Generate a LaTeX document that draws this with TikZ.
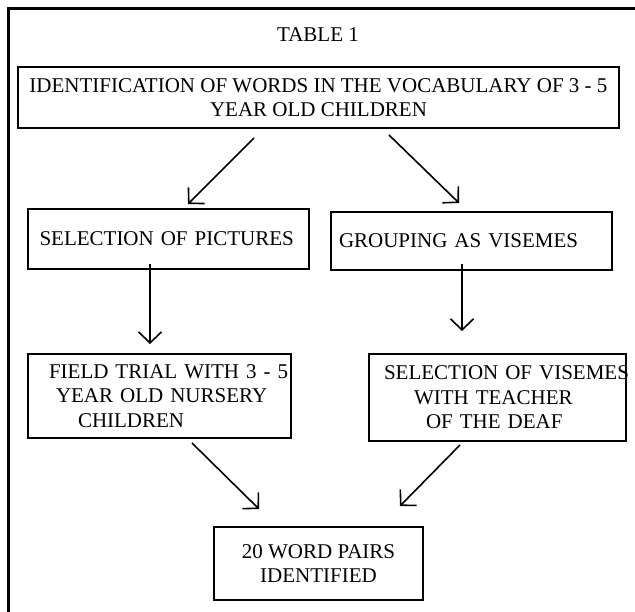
\documentclass[tikz,border=0pt]{standalone}
\usepackage{fontspec}
\setmainfont{Liberation Serif}
\usetikzlibrary{arrows.meta}
\newcommand{\bxline}[2]{\hspace*{#1}\rlap{#2}}
\begin{document}
\begin{tikzpicture}[x=1pt,y=-1pt,
  every node/.style={font=\fontsize{21}{24.5}\selectfont},
  box/.style={draw, line width=2pt, rectangle, inner sep=0pt},
  lbox/.style={box, align=left, anchor=north west},
  cbox/.style={box, align=center},
  arr/.style={line width=1.6pt, -{Straight Barb[length=11pt,width=23pt]}}]
\useasboundingbox (0,0) rectangle (635,612);
% frame
\draw[line width=3pt, line join=miter] (8,612) -- (8,9) -- (635,9);
% title
\node[anchor=base] (title) at (318,42) {TABLE 1};
% boxes
\node[cbox, minimum width=601pt, minimum height=61pt] (ident) at (318.5,97.5)
  {IDENTIFICATION OF WORDS IN THE VOCABULARY OF 3 - 5\\YEAR OLD CHILDREN};
\node[lbox, text width=281pt, minimum height=60pt] (pics) at (27,208)
  {\bxline{11.5pt}{SELECTION OF PICTURES}};
\node[lbox, text width=281pt, minimum height=58pt] (group) at (330,211)
  {\bxline{8pt}{GROUPING AS VISEMES}};
\node[lbox, text width=263pt, minimum height=84pt] (field) at (27,353)
  {\bxline{21pt}{FIELD TRIAL WITH 3 - 5}\\\bxline{28pt}{YEAR OLD NURSERY}\\\bxline{50pt}{CHILDREN}};
\node[lbox, text width=257pt, minimum height=87pt] (vis) at (368,353)
  {\bxline{15pt}{SELECTION OF VISEMES}\\\bxline{45pt}{WITH TEACHER}\\\bxline{57pt}{OF THE DEAF}};
\node[cbox, minimum width=209pt, minimum height=73pt] (pairs) at (318.5,563.5)
  {20 WORD PAIRS\\IDENTIFIED};
% connector ends
\coordinate (a1s) at (254,138); \coordinate (a1e) at (188,204);
\coordinate (a2s) at (389,135); \coordinate (a2e) at (459,203);
\coordinate (a3s) at (150,264); \coordinate (a3e) at (150,344);
\coordinate (a4s) at (462,264); \coordinate (a4e) at (462,331);
\coordinate (a5s) at (192,443); \coordinate (a5e) at (259,509);
\coordinate (a6s) at (460,445); \coordinate (a6e) at (400,506);
\draw[arr] (a1s) -- (a1e);
\draw[arr] (a2s) -- (a2e);
\draw[arr] (a3s) -- (a3e);
\draw[arr] (a4s) -- (a4e);
\draw[arr] (a5s) -- (a5e);
\draw[arr] (a6s) -- (a6e);
\end{tikzpicture}
\end{document}
